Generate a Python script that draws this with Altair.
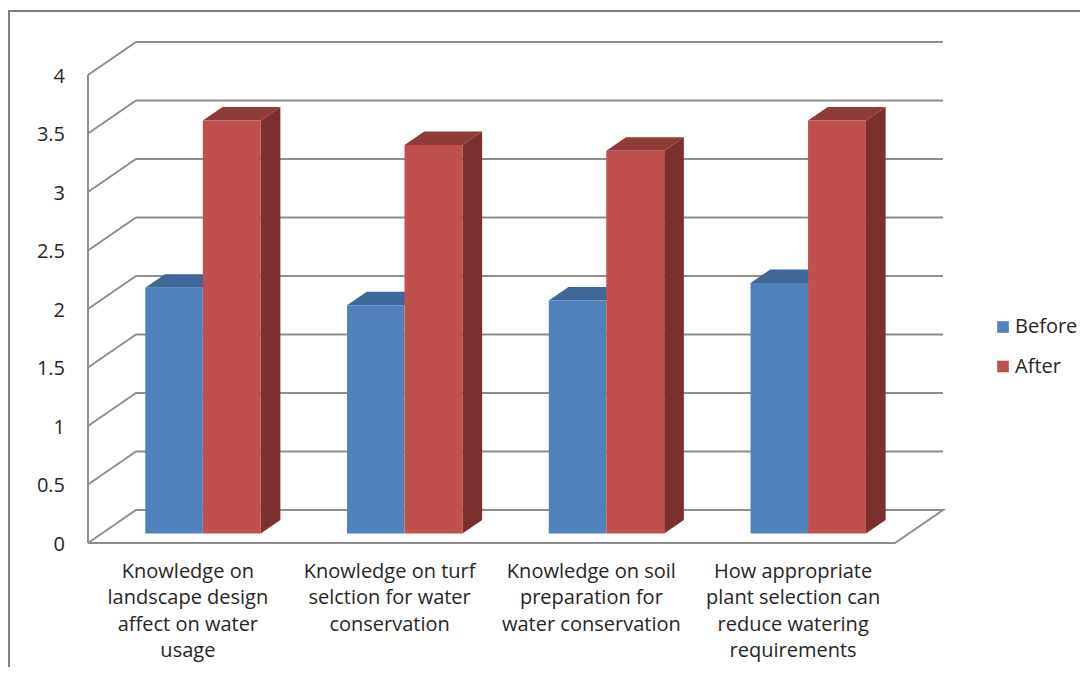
import altair as alt
import pandas as pd

categories = [
    "Knowledge on\nlandscape design\naffect on  water\nusage",
    "Knowledge on turf\nselction for water\nconservation",
    "Knowledge on soil\npreparation for\nwater conservation",
    "How appropriate\nplant selection can\nreduce watering\nrequirements",
]
before = [2.10, 1.95, 1.99, 2.14]
after = [3.53, 3.32, 3.27, 3.53]
levels = [0, 0.5, 1, 1.5, 2, 2.5, 3, 3.5, 4]
level_labels = ["0", "0.5", "1", "1.5", "2", "2.5", "3", "3.5", "4"]
series = ["Before", "After"]

FONT = "Open Sans"
FS = 20
TEXT = "#262626"
W, H = 1072, 659
X_PX, Y_PX = 201.75, 117.0
X0, Y0 = 80.0, 535.0
x_scale = alt.Scale(domain=[-X0 / X_PX, (W - X0) / X_PX], range=[0, W], nice=False, zero=False)
y_scale = alt.Scale(domain=[-(H - Y0) / Y_PX, Y0 / Y_PX], range=[H, 0], nice=False, zero=False)
DX, DY = 48 / X_PX, 33 / Y_PX          # depth of the chart box
D0, D1 = 0.29, 0.70                    # bar depth span, as share of the box
B0, B1, B2 = 0.215, 0.50, 0.787        # bar edges inside a category slot


def X(f="x"):
    return alt.X(f"{f}:Q", scale=x_scale, axis=None)


def Y(f="y"):
    return alt.Y(f"{f}:Q", scale=y_scale, axis=None)


# box lines
rows = []
for n, v in enumerate(levels):
    pts = [(0, v), (DX, v + DY), (4 + DX, v + DY)]
    if v == 0:
        pts = [(0, 0), (DX, DY), (4 + DX, DY), (4, 0), (0, 0)]
    rows += [dict(id=f"l{n}", o=i, x=p[0], y=p[1]) for i, p in enumerate(pts)]
rows += [dict(id="wall", o=0, x=0, y=0), dict(id="wall", o=1, x=0, y=4)]
box = alt.Chart(pd.DataFrame(rows)).mark_line(color="#8e8e8e", strokeWidth=2).encode(
    x=X(), y=Y(), detail="id:N", order="o:Q"
)

# outer frame
fx, fy = (0.9 - X0) / X_PX, (Y0 - 3) / Y_PX
frame_rows = [dict(o=0, x=fx, y=-(H - Y0) / Y_PX), dict(o=1, x=fx, y=fy), dict(o=2, x=(W - X0) / X_PX, y=fy)]
frame = alt.Chart(pd.DataFrame(frame_rows)).mark_line(color="#808080", strokeWidth=2.2).encode(
    x=X(), y=Y(), order="o:Q"
)

base = D0 * DY
fronts, tops, sides = [], [], []
for i in range(len(categories)):
    for s, vals, a, b in (("Before", before, B0, B1), ("After", after, B1, B2)):
        v = vals[i]
        xa = i + a + D0 * DX
        xb = i + b + D0 * DX
        ddx, ddy = (D1 - D0) * DX, (D1 - D0) * DY
        fronts.append(dict(series=s, x=xa, x2=xb, y=base, y2=base + v))
        for d in (0, 1):
            tops.append(dict(id=f"{s}{i}", series=s, y=base + v + d * ddy, x=xa + d * ddx, x2=xb + d * ddx))
        if s == "After":
            for d in (0, 1):
                sides.append(dict(id=f"{s}{i}", x=xb + d * ddx, y=base + d * ddy, y2=base + v + d * ddy))

color = alt.Color(
    "series:N",
    scale=alt.Scale(domain=series, range=["#4f81bd", "#c0504d"]),
    legend=alt.Legend(
        title=None, orient="none", legendX=985, legendY=309, symbolType="square", symbolSize=135,
        symbolStrokeWidth=0, labelFont=FONT, labelFontSize=FS, labelColor=TEXT, rowPadding=19.5, labelOffset=2,
    ),
)

top_layer = alt.Chart(pd.DataFrame(tops)).mark_area(orient="horizontal", opacity=1).encode(
    y=Y(), x=X(), x2="x2:Q", detail="id:N",
    color=alt.Color("series:N", scale=alt.Scale(domain=series, range=["#3f6797", "#8f3b39"]), legend=None),
)

side_layer = alt.Chart(pd.DataFrame(sides)).mark_area(orient="vertical", color="#7c2f2e", opacity=1).encode(
    x=X(), y=Y(), y2="y2:Q", detail="id:N"
)

front_layer = alt.Chart(pd.DataFrame(fronts)).mark_rect().encode(
    x=X(), x2="x2:Q", y=Y(), y2="y2:Q", color=color
)

# value labels, right aligned just left of the wall
tick_df = pd.DataFrame({"x": [(65 - 88) / X_PX] * len(levels), "y": levels, "label": level_labels})
tick_layer = alt.Chart(tick_df).mark_text(
    font=FONT, fontSize=FS, color=TEXT, align="right", baseline="middle", dy=1.5
).encode(x=X(), y=Y(), text="label:N")

cat_df = pd.DataFrame({"x": [i + 0.495 for i in range(4)], "y": [(543 - 562.0) / Y_PX] * 4, "label": categories})
cat_layer = alt.Chart(cat_df).mark_text(
    font=FONT, fontSize=FS, color=TEXT, lineBreak="\n", lineHeight=26.4, baseline="top", align="center"
).encode(x=X(), y=Y(), text="label:N")

chart = (
    alt.layer(frame, box, top_layer, side_layer, front_layer, tick_layer, cat_layer)
    .resolve_scale(color="independent")
    .properties(width=W, height=H, padding=0, autosize=alt.AutoSizeParams(type="none"), background="white")
    .configure_view(stroke=None)
)
chart.save("out.html", embed_options={"renderer": "svg", "actions": False})
